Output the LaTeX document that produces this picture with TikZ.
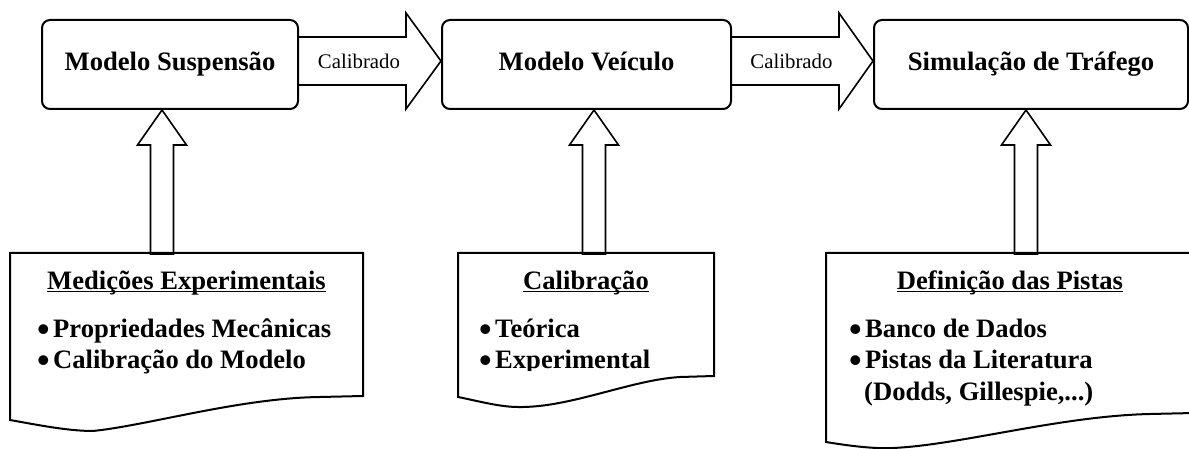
\documentclass[tikz,border=0pt]{standalone}
\usepackage{graphicx}
\usepackage{fontspec}
\setmainfont{Liberation Serif}
\usetikzlibrary{positioning}

% underlined heading with a fixed rule below the baseline
\newsavebox{\headbox}
\newcommand{\headline}[1]{\sbox{\headbox}{#1}\rlap{\rule[-3.4pt]{\wd\headbox}{1.8pt}}\usebox{\headbox}}
\newcommand{\bul}{\makebox[16pt][l]{\smash{\raisebox{-4.5pt}{\scalebox{1.35}{\textbullet}}}}}

\begin{document}
\begin{tikzpicture}[x=1pt,y=-1pt,
    model/.style={draw,line width=2pt,rounded corners=8pt,minimum height=89pt,
        font=\fontsize{26.6}{31}\selectfont\bfseries,text height=15pt,text depth=3pt},
    blockarrow/.style={line width=1.6pt,line join=miter},
    docline/.style={line width=2pt,line join=miter},
    heading/.style={anchor=base,inner sep=0pt,font=\fontsize{26.6}{31}\selectfont\bfseries},
    item/.style={anchor=base west,inner sep=0pt,font=\fontsize{26.6}{31}\selectfont\bfseries},
    calib/.style={anchor=base,inner sep=0pt,font=\fontsize{20.8}{25}\selectfont}]
    \useasboundingbox (0,0) rectangle (1189,449);

    % the three models
    \node[model,minimum width=256pt] (susp) at (170,64.5) {Modelo Suspensão};
    \node[model,minimum width=289pt] (veic) at (586.5,64.5) {Modelo Veículo};
    \node[model,minimum width=314pt] (traf) at (1031,64.5) {Simulação de Tráfego};

    % block arrows between the models
    \draw[blockarrow] (susp.east |- 0,37) -- (406,37) -- (406,13) -- (veic.west |- 0,61)
        -- (406,109) -- (406,85) -- (susp.east |- 0,85);
    \node[calib] (cal1) at (359,68.5) {Calibrado};

    \draw[blockarrow] (veic.east |- 0,37) -- (839,37) -- (839,13) -- (traf.west |- 0,61)
        -- (839,109) -- (839,85) -- (veic.east |- 0,85);
    \node[calib] (cal2) at (791.5,68.5) {Calibrado};

    % input documents
    \draw[docline] (10,420) -- (10,253) -- (363,253) -- (363,396) -- (320,397)
        .. controls (240,398) and (150,425) .. (93,431)
        .. controls (68,431) and (38,425) .. (10,420) -- cycle;
    \draw[docline] (458,397) -- (458,253) -- (714,253) -- (714,376) -- (680,377)
        .. controls (630,380) and (570,408) .. (518,407)
        .. controls (500,407) and (478,401) .. (458,397) -- cycle;
    \draw[docline] (826,442) -- (826,253) -- (1194,253) -- (1194,413) -- (1150,414)
        .. controls (1060,416) and (960,445) .. (893,448)
        .. controls (875,449) and (850,446) .. (826,442) -- cycle;

    \coordinate (medtop) at (162,253);
    \coordinate (caltop) at (594,253);
    \coordinate (pisttop) at (1026,253);

    % block arrows from the documents up to the models
    \draw[blockarrow] (susp.south -| medtop) -- ++(24.5,35) -- ++(-13,0) -- ++(0,109)
        -- ++(-23,0) -- ++(0,-109) -- ++(-13,0) -- cycle;
    \draw[blockarrow] (veic.south -| caltop) -- ++(24.5,35) -- ++(-13,0) -- ++(0,109)
        -- ++(-23,0) -- ++(0,-109) -- ++(-13,0) -- cycle;
    \draw[blockarrow] (traf.south -| pisttop) -- ++(24.5,35) -- ++(-13,0) -- ++(0,109)
        -- ++(-23,0) -- ++(0,-109) -- ++(-13,0) -- cycle;

    % texts of the documents
    \node[heading] (medhead) at (186.5,289) {\headline{Medições Experimentais}};
    \node[item] (meditem1) at (37,337) {\bul Propriedades Mecânicas};
    \node[item,below=31pt of meditem1.base west,anchor=base west] (meditem2) {\bul Calibração do Modelo};

    \node[heading] (calhead) at (586,289) {\headline{Calibração}};
    \node[item] (calitem1) at (479,337) {\bul Teórica};
    \begin{scope}
        \clip (458,253) rectangle (714,370);
        \node[item,below=31pt of calitem1.base west,anchor=base west] (calitem2) {\bul Experimental};
    \end{scope}

    \node[heading] (pisthead) at (1010,289) {\headline{Definição das Pistas}};
    \node[item] (pistitem1) at (849,337) {\bul Banco de Dados};
    \node[item,below=31pt of pistitem1.base west,anchor=base west] (pistitem2) {\bul Pistas da Literatura};
    \node[item,below=32pt of pistitem2.base west,anchor=base west,xshift=15pt] (pistitem3) {(Dodds, Gillespie,...)};
\end{tikzpicture}
\end{document}
